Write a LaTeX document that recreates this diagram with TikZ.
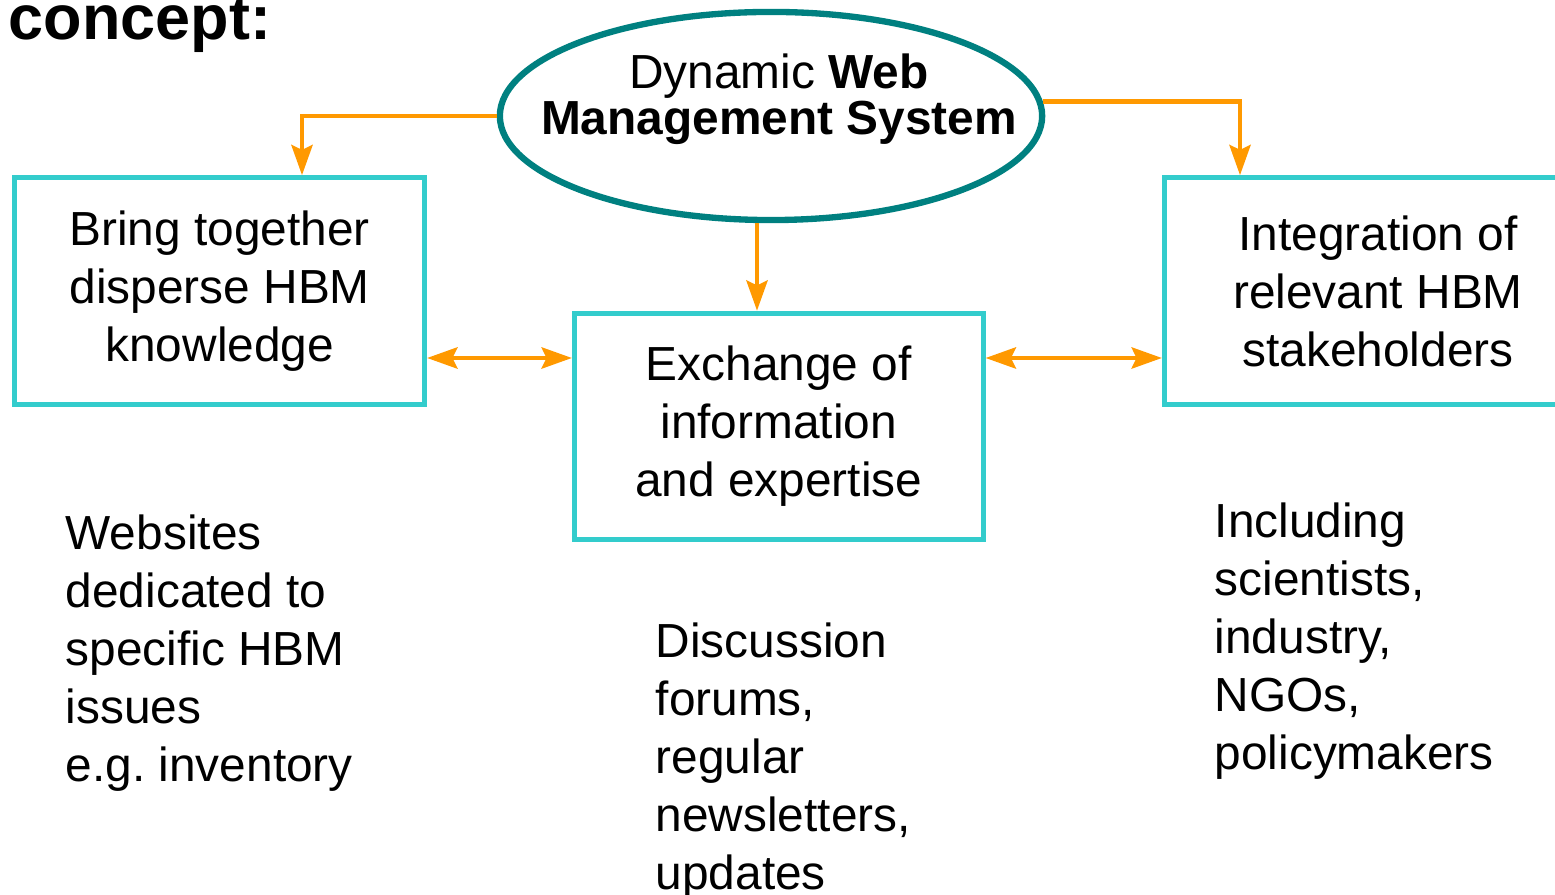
\documentclass[tikz,border=0pt]{standalone}
\usepackage{fontspec}
\setmainfont{Liberation Sans}
\usetikzlibrary{arrows.meta, shapes.geometric}

\definecolor{dwsteal}{RGB}{0,128,128}
\definecolor{boxcyan}{RGB}{51,204,204}
\definecolor{flowamber}{RGB}{255,153,0}

\begin{document}
\begin{tikzpicture}[x = 0.01cm, y = -0.01cm,
	> = {Stealth[length = 8.6pt, width = 6pt, inset = 1.4pt]},
	infobox/.style = {draw = boxcyan, line width = 1.4pt, minimum height = 2.265cm,
		align = center, inner sep = 0pt, font = \fontsize{13.6}{16.5}\selectfont},
	flow/.style = {draw = flowamber, line width = 1.3pt, ->},
	note/.style = {anchor = north west, align = left, inner sep = 0pt,
		font = \fontsize{13.6}{16.5}\selectfont}]

	% Page
	
	\useasboundingbox (0, 0) rectangle (1555, 895);

	% Title
	
	\node [anchor = base west, inner sep = 0pt, font = \fontsize{17.9}{20}\selectfont\bfseries] (concept) at (8, 40) {concept:};

	% Web management system
	
	\node [ellipse, draw = dwsteal, line width = 1.8pt, minimum width = 5.42cm, minimum height = 2.08cm, inner sep = 0pt] (dws) at (771, 116) {};
	\node [align = center, inner sep = 0pt, font = \fontsize{13.6}{13.1}\selectfont] (dwslabel) at ([xshift = 0.08cm, yshift = 0.17cm]dws.center) {Dynamic \textbf{Web}\\\textbf{Management System}};

	% Boxes
	
	\node [infobox, minimum width = 4.095cm] (bring) at (219.75, 291) {Bring together\\disperse HBM\\knowledge};
	\node [infobox, minimum width = 4.085cm] (exch) at (778.75, 426.5) {Exchange of\\information\\and expertise};
	\node [infobox, minimum width = 4.27cm] (integ) at (1378, 291) {Integration of\\relevant HBM\\stakeholders};

	% Arrows
	
	\coordinate (leftdrop) at (302, 0);
	\coordinate (rightdrop) at (1240, 0);
	\coordinate (middrop) at (757, 0);
	\coordinate (link) at (0, 358);
	
	\draw [flow] (dws.west) -| (bring.north -| leftdrop);
	\draw [flow] (dws.3) -| (integ.north -| rightdrop);
	\draw [flow] (dws.south -| middrop) -- (exch.north -| middrop);
	\draw [flow, <->] (bring.east |- link) -- (exch.west |- link);
	\draw [flow, <->] (exch.east |- link) -- (integ.west |- link);

	% Notes
	
	\node [note] (websites) at (65, 514) {Websites\\dedicated to\\specific HBM\\issues\\e.g.\ inventory};
	\node [note] (forums) at (655, 622) {Discussion\\forums,\\regular\\newsletters,\\updates};
	\node [note] (including) at (1214, 502) {Including\\scientists,\\industry,\\NGOs,\\policymakers};

\end{tikzpicture}
\end{document}
